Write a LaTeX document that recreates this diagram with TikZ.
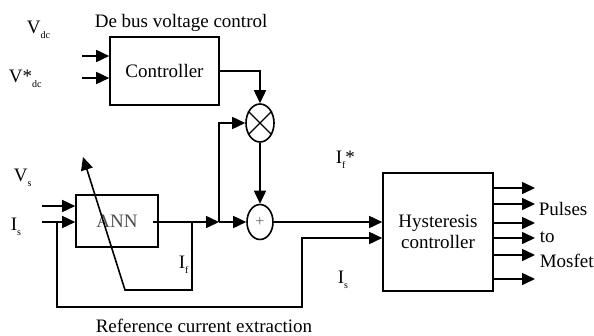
\documentclass[tikz,border=0pt]{standalone}
\usepackage{fontspec}
\setmainfont{Liberation Serif}
\newfontfamily\tms{Liberation Serif}
\usetikzlibrary{arrows.meta,shapes.geometric}
\newcommand{\lsub}[1]{\raisebox{-5pt}{\fontsize{10}{10}\selectfont #1}}
\begin{document}
\begin{tikzpicture}[x=1pt,y=-1pt,line width=1.6pt,
  arr/.style={-{Triangle[length=13pt,width=12pt]}},
  blk/.style={draw,rectangle,inner sep=0pt,align=center,font=\tms\fontsize{19}{21}\selectfont},
  lbl/.style={inner sep=0pt,anchor=base west,font=\tms\fontsize{19}{21}\selectfont},
  sumnode/.style={draw,ellipse,inner sep=0pt}]
\useasboundingbox (0,0) rectangle (594,335);
% blocks
\node[blk,minimum width=109pt,minimum height=68pt] (ctrl) at (164.5,71) {Controller};
\node[blk,minimum width=82pt,minimum height=52pt,text=black!70] (ann) at (117,221) {ANN};
\node[blk,minimum width=110pt,minimum height=118pt] (hyst) at (438,232) {Hysteresis\\controller};
\node[sumnode,minimum width=28pt,minimum height=38pt] (mul) at (260,123) {};
\draw[line width=1.3pt] (mul.135) -- (mul.-45) (mul.45) -- (mul.-135);
\node[sumnode,minimum width=26pt,minimum height=35pt,font=\tms\fontsize{16}{16}\selectfont,text=black!60] (plus) at (260,222) {+};
% labels
\node[lbl] (t1) at (94,27) {De bus voltage control};
\node[lbl] (t2) at (26,33) {V\lsub{dc}};
\node[lbl] (t3) at (8,82) {V*\lsub{dc}};
\node[lbl] (t4) at (13,181) {V\lsub{s}};
\node[lbl] (t5) at (10,230) {I\lsub{s}};
\node[lbl] (t6) at (178,268) {I\lsub{f}};
\node[lbl] (t7) at (335,163) {I\lsub{f}*};
\node[lbl] (t8) at (337,283) {I\lsub{s}};
\node[lbl] (t9) at (95,332) {Reference current extraction};
\node[lbl] (t10) at (538,215) {Pulses};
\node[lbl] (t11) at (539,242) {to};
\node[lbl] (t12) at (539,267) {Mosfet};
% controller inputs
\coordinate (vdcin) at (82,56);
\coordinate (vrefin) at (82,78);
\draw[arr] (vdcin) -- (vdcin -| ctrl.west);
\draw[arr] (vrefin) -- (vrefin -| ctrl.west);
\draw[arr] (ctrl.east) -| (mul.north);
\draw[arr] (mul.south) -- (plus.north);
% ANN inputs
\coordinate (vsin) at (42,206);
\coordinate (isin) at (42,222);
\draw[arr] (vsin) -- (vsin -| ann.west);
\draw[arr] (isin) -- (isin -| ann.west);
% ANN output
\coordinate (br) at (219,222);
\draw[arr] ([xshift=-6pt]ann.east |- br) -- (br);
\draw[arr] (br) -- (plus.west);
\draw[arr] (br) |- (mul.west);
% adaptation feedback
\coordinate (fb1) at (192,222);
\coordinate (fb2) at (192,290);
\coordinate (fb3) at (125,290);
\coordinate (fbtip) at (83,157);
\draw[arr] (fb1) -- (fb2) -- (fb3) -- (fbtip);
% Is loop
\coordinate (is1) at (57,222);
\coordinate (lp1) at (57,307);
\coordinate (lp2) at (302,307);
\coordinate (lp3) at (302,238);
\draw[arr] (is1) -- (lp1) -- (lp2) -- (lp3) -- (lp3 -| hyst.west);
\draw[arr] (plus.east) -- (plus.east -| hyst.west);
% outputs
\foreach \yy [count=\i] in {188,204,223,238,255,279}{
  \coordinate (o\i) at (535,\yy);
  \draw[arr] (o\i -| hyst.east) -- (o\i);
}
\end{tikzpicture}
\end{document}
